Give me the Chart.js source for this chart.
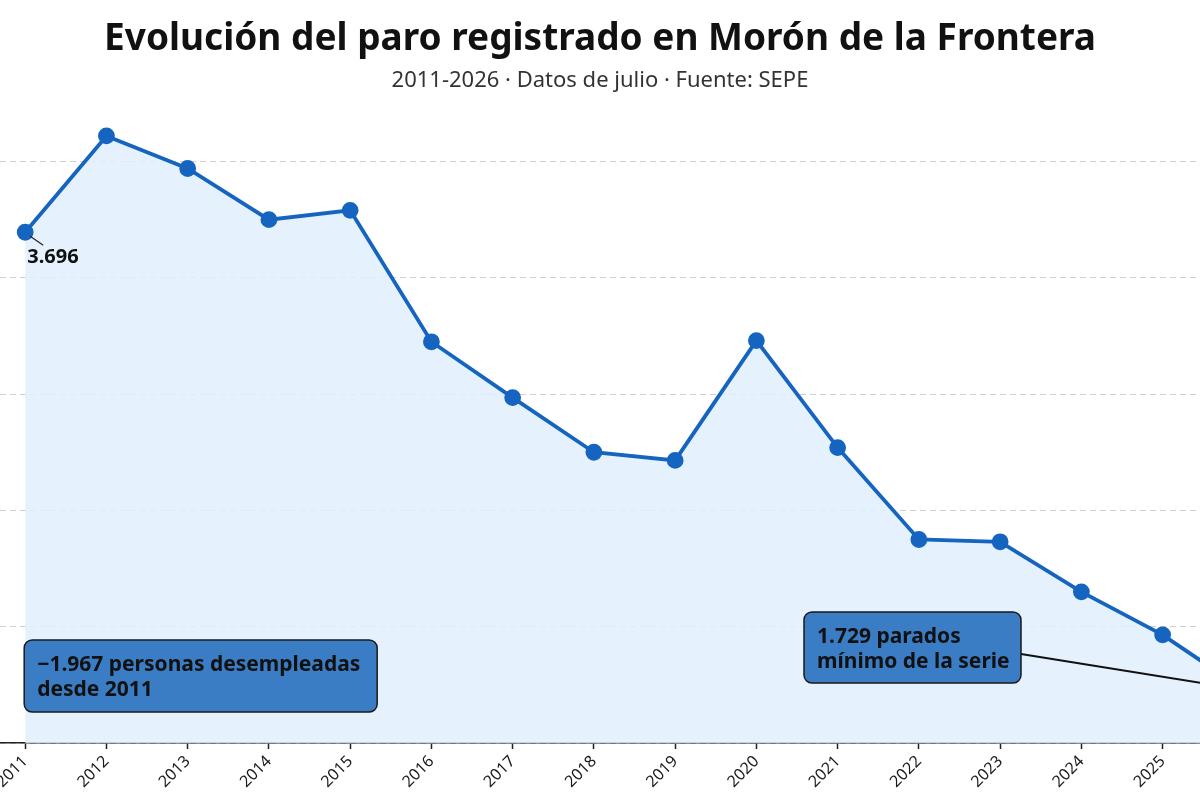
<!DOCTYPE html>
<html>
<head>
<meta charset="utf-8">
<script src="https://cdn.jsdelivr.net/npm/chart.js@4.4.1/dist/chart.umd.min.js"></script>
<style>
  html, body { margin: 0; padding: 0; background: #fff; overflow: hidden; }
</style>
</head>
<body>
<canvas id="paro" width="1200" height="800"></canvas>
<script>
// datos
const years = [2011, 2012, 2013, 2014, 2015, 2016, 2017, 2018, 2019, 2020, 2021, 2022, 2023, 2024, 2025, 2026];
const parados = [3696, 4110, 3970, 3750, 3790, 3225, 2985, 2750, 2715, 3230, 2770, 2375, 2365, 2150, 1965, 1729];
const yTicks = [1500, 2000, 2500, 3000, 3500, 4000];

const titulo = 'Evolución del paro registrado en Morón de la Frontera';
const subtitulo = '2011-2026 · Datos de julio · Fuente: SEPE';
const notaTotal = ['−1.967 personas desempleadas', 'desde 2011'];
const notaMinimo = ['1.729 parados', 'mínimo de la serie'];

const azul = '#1565c0';
const font = '"Noto Sans", sans-serif';

function roundBox(ctx, x, y, w, h, r) {
  ctx.beginPath();
  ctx.moveTo(x + r, y);
  ctx.arcTo(x + w, y, x + w, y + h, r);
  ctx.arcTo(x + w, y + h, x, y + h, r);
  ctx.arcTo(x, y + h, x, y, r);
  ctx.arcTo(x, y, x + w, y, r);
  ctx.closePath();
}

function drawNote(ctx, lines, x, y, w, h) {
  roundBox(ctx, x, y, w, h, 8);
  ctx.fillStyle = '#3b7dc4';
  ctx.fill();
  ctx.lineWidth = 1.5;
  ctx.strokeStyle = '#1a1a1a';
  ctx.stroke();
  ctx.fillStyle = '#111';
  ctx.font = 'bold 21px ' + font;
  ctx.textAlign = 'left';
  ctx.textBaseline = 'alphabetic';
  lines.forEach((t, i) => ctx.fillText(t, x + 13, y + 31 + i * 25));
}

// anotaciones
const notas = {
  id: 'notas',
  afterDatasetsDraw(chart) {
    const {ctx, scales: {x, y}} = chart;
    ctx.save();

    // primer valor
    const x0 = x.getPixelForValue(years[0]);
    const y0 = y.getPixelForValue(parados[0]);
    ctx.strokeStyle = '#222';
    ctx.lineWidth = 1.2;
    ctx.beginPath();
    ctx.moveTo(x0 + 5, y0 + 4);
    ctx.lineTo(x0 + 18, y0 + 13);
    ctx.stroke();
    ctx.fillStyle = '#111';
    ctx.font = 'bold 20px ' + font;
    ctx.textAlign = 'left';
    ctx.fillText('3.696', x0 + 2, y0 + 31);

    // flecha al minimo
    const last = years.length - 1;
    ctx.strokeStyle = '#111';
    ctx.lineWidth = 2;
    ctx.beginPath();
    ctx.moveTo(1021, 654);
    ctx.lineTo(x.getPixelForValue(years[last]), y.getPixelForValue(parados[last]));
    ctx.stroke();

    drawNote(ctx, notaTotal, x0 - 1, 640, 353, 72);
    drawNote(ctx, notaMinimo, 804, 612, 217, 71);
    ctx.restore();
  }
};

const data = {
  datasets: [{
    data: years.map((yr, i) => ({x: yr, y: parados[i]})),
    borderColor: azul,
    borderWidth: 3.8,
    pointRadius: 6.5,
    pointBackgroundColor: azul,
    pointBorderColor: azul,
    fill: 'start',
    backgroundColor: 'rgba(225, 238, 252, 0.85)',
    tension: 0
  }]
};

const options = {
  responsive: false,
  animation: false,
  layout: { padding: 0, autoPadding: false },
  plugins: {
    legend: { display: false },
    tooltip: { enabled: false },
    title: {
      display: true,
      text: titulo,
      color: '#111',
      font: { family: font, size: 37, weight: 'bold', lineHeight: 1.2 },
      padding: { top: 17.7, bottom: 0 }
    },
    subtitle: {
      display: true,
      text: subtitulo,
      color: '#333',
      font: { family: font, size: 22, lineHeight: 1.2 },
      padding: { top: 5.2, bottom: 21.3 }
    }
  },
  scales: {
    x: {
      type: 'linear',
      bounds: 'data',
      min: 2010.69,
      max: 2025.46,
      afterBuildTicks: s => { s.ticks = years.map(v => ({value: v})); },
      afterFit: s => { s.paddingLeft = 0; s.paddingRight = 0; s.height = 57; },
      ticks: {
        autoSkip: false,
        minRotation: 45,
        maxRotation: 45,
        padding: 3,
        color: '#1a1a1a',
        font: { family: font, size: 16 },
        callback: v => String(v)
      },
      grid: { drawOnChartArea: false, drawTicks: true, tickLength: 6, tickColor: '#222', tickWidth: 1.5 },
      border: { display: true, color: '#222', width: 1.5 }
    },
    y: {
      type: 'linear',
      bounds: 'data',
      min: 1500,
      max: 4200,
      afterBuildTicks: s => { s.ticks = yTicks.map(v => ({value: v})); },
      afterFit: s => { s.width = 0; s.paddingTop = 0; s.paddingBottom = 0; },
      ticks: { display: false },
      grid: { color: '#cfcfcf', lineWidth: 1, drawTicks: false },
      border: { display: false, dash: [6, 4] }
    }
  }
};

const paro = new Chart(document.getElementById('paro'), {
  type: 'line',
  data: data,
  options,
  plugins: [notas]
});
</script>
</body>
</html>
